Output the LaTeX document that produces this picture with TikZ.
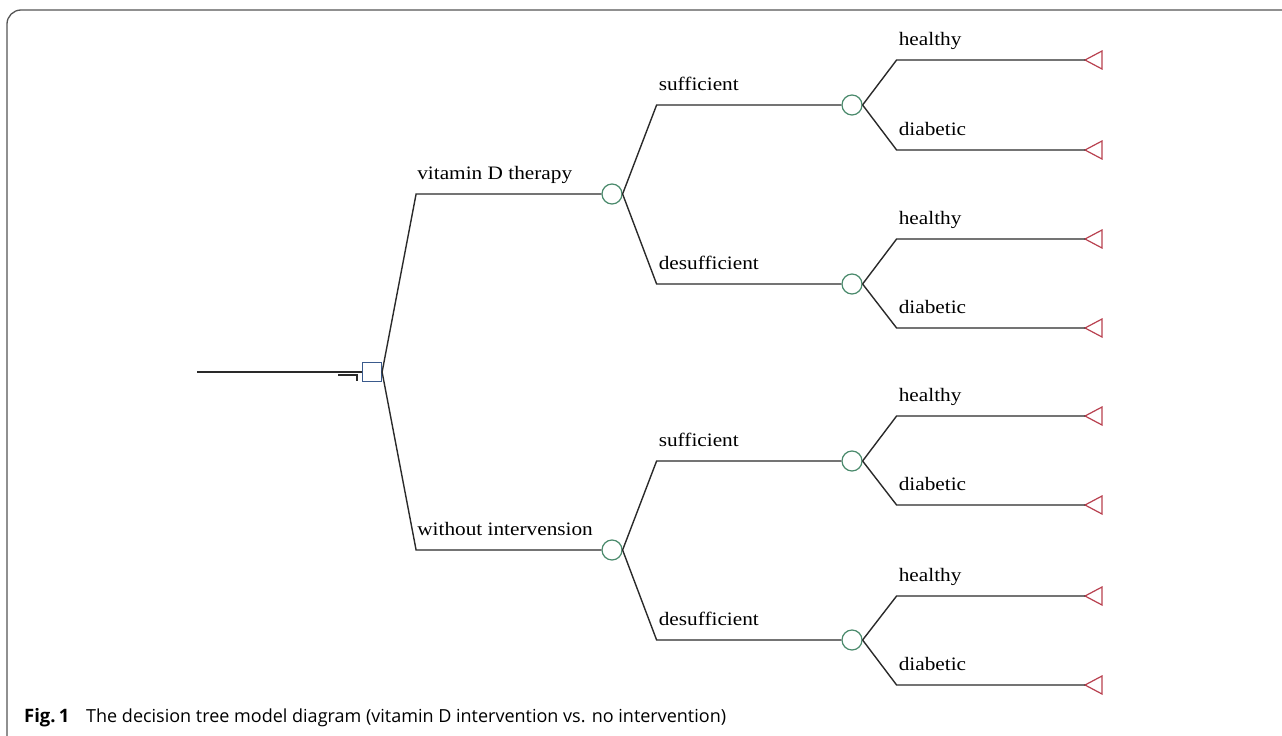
\documentclass[tikz,border=0pt]{standalone}
\usepackage{fontspec}
\setmainfont{Liberation Serif}[FakeStretch=1.12]
\newfontfamily\capfont{Open Sans}
\definecolor{linec}{HTML}{2A2A2A}
\definecolor{chancec}{HTML}{4A8A6C}
\definecolor{decc}{HTML}{3A5A8C}
\definecolor{termc}{HTML}{B8404F}
\definecolor{framec}{HTML}{555555}
\tikzset{
  edge/.style={draw=linec, line width=1.4pt},
  decbox/.style={rectangle, draw=decc, fill=white, line width=1.2pt, minimum size=19pt, inner sep=0pt},
  chancebox/.style={circle, draw=chancec, fill=white, line width=1.2pt, minimum size=20pt, inner sep=0pt},
  termtri/.style={draw=termc, line width=1.2pt, line join=miter},
  lbl/.style={anchor=base west, inner sep=0pt, font=\fontsize{19}{22}\selectfont, text=black},
}
\begin{document}
\begin{tikzpicture}[x=1pt,y=-1pt]
\useasboundingbox (0,0) rectangle (1282,736);
% frame
\draw[framec, line width=1.3pt] (7,736) -- (7,24) arc[start angle=180, end angle=270, radius=14] -- (1282,10);

% decision node
\node[decbox] (d) at (372,372) {};
\coordinate (root) at (197,372);
\draw[edge] (root) -- (d.west);
\draw[linec, line width=1.2pt] (338,375) -- (357,375) -- (357,381);

% chance nodes level 1
\node[chancebox] (c1) at (612,194) {};
\node[chancebox] (c2) at (612,550) {};
% chance nodes level 2
\node[chancebox] (c11) at (852,105) {};
\node[chancebox] (c12) at (852,284) {};
\node[chancebox] (c21) at (852,461) {};
\node[chancebox] (c22) at (852,640) {};

% terminal nodes (apex coordinates)
\foreach \n/\y in {t111/60,t112/150,t121/239,t122/328,t211/416,t212/505,t221/596,t222/685}{
  \coordinate (\n) at (1085,\y);
  \draw[termtri] (\n) -- ++(17,-9) -- ++(0,18) -- cycle;
}

% edges level 1
\draw[edge] (d.east) -- ([xshift=34pt]d.east |- c1) coordinate (k1) -- (c1.west);
\draw[edge] (d.east) -- ([xshift=34pt]d.east |- c2) coordinate (k2) -- (c2.west);
\node[lbl] (l1) at ([xshift=1pt,yshift=15pt]k1) {vitamin D therapy};
\node[lbl] (l2) at ([xshift=1pt,yshift=15pt]k2) {without intervension};

% edges level 2
\foreach \p/\a/\b in {c1/c11/c12, c2/c21/c22}{
  \draw[edge] (\p.east) -- ([xshift=34pt]\p.east |- \a) coordinate (k\a) -- (\a.west);
  \draw[edge] (\p.east) -- ([xshift=34pt]\p.east |- \b) coordinate (k\b) -- (\b.west);
  \node[lbl] at ([xshift=2pt,yshift=15pt]k\a) {sufficient};
  \node[lbl] at ([xshift=2pt,yshift=15pt]k\b) {desufficient};
}

% edges level 3
\foreach \p/\a/\b in {c11/t111/t112, c12/t121/t122, c21/t211/t212, c22/t221/t222}{
  \draw[edge] (\p.east) -- ([xshift=34pt]\p.east |- \a) coordinate (k\a) -- (\a);
  \draw[edge] (\p.east) -- ([xshift=34pt]\p.east |- \b) coordinate (k\b) -- (\b);
  \node[lbl] at ([xshift=2pt,yshift=15pt]k\a) {healthy};
  \node[lbl] at ([xshift=2pt,yshift=15pt]k\b) {diabetic};
}

% caption
\node[anchor=base west, inner sep=0pt, font=\capfont\fontsize{18.5}{22}\selectfont\bfseries] (figl) at (24,722) {Fig.\,1};
\node[anchor=base west, inner sep=0pt, font=\capfont\fontsize{18}{22}\selectfont] (cap) at (86,722) {The decision tree model diagram (vitamin D intervention vs. no intervention)};
\end{tikzpicture}
\end{document}
